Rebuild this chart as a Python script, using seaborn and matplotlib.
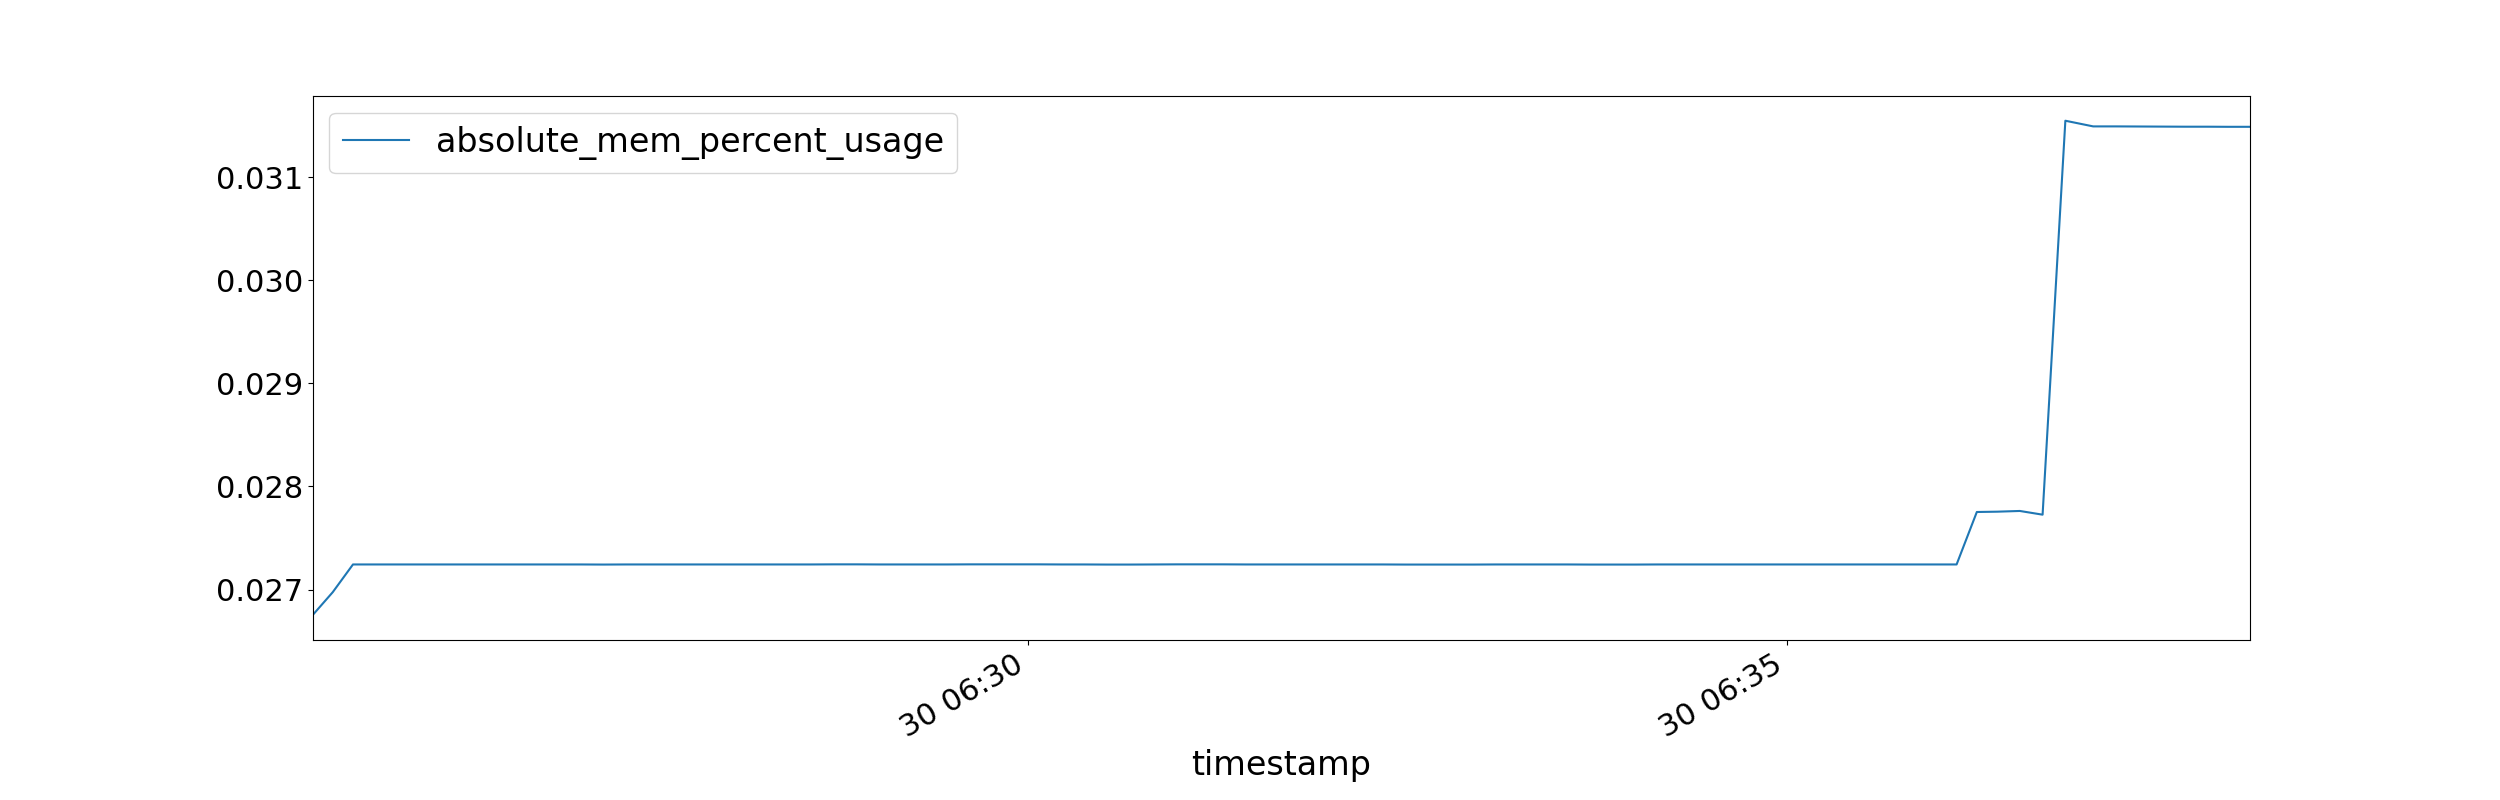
import pandas as pd
import matplotlib
matplotlib.use("Agg")
import matplotlib.pyplot as plt
import seaborn as sns

# memory usage log
start_time = "2020-06-30 06:25:17"

# seconds after start_time for each sample
offsets_s = [0, 8,
             16, 25, 34, 43, 52, 61, 70, 79, 88, 97, 106, 115, 124, 133, 142, 151,
             160, 170, 179, 188, 197, 206, 215, 224, 233, 242, 251, 260, 269, 278,
             287, 296, 305, 314, 323, 333, 342, 351, 360, 369, 378, 387, 396, 405,
             414, 423, 432, 441, 450, 459, 468, 477, 486, 496, 505, 514, 523, 532,
             541, 550, 559, 568, 577, 586, 595, 604, 613, 622, 631, 641, 650,
             658, 666, 675, 684, 693, 704, 713, 722, 731, 740, 749, 757, 766]

mem_usage = [0.026750, 0.026974,
             0.027243, 0.027243, 0.027243, 0.027243, 0.027243, 0.027243, 0.027243,
             0.027243, 0.027243, 0.027243, 0.027243, 0.027242, 0.027243, 0.027243,
             0.027243, 0.027243, 0.027243, 0.027243, 0.027243, 0.027243, 0.027243,
             0.027244, 0.027244, 0.027243, 0.027243, 0.027243, 0.027243, 0.027244,
             0.027244, 0.027244, 0.027244, 0.027243, 0.027243, 0.027242, 0.027242,
             0.027243, 0.027244, 0.027244, 0.027244, 0.027243, 0.027243, 0.027243,
             0.027243, 0.027243, 0.027243, 0.027243, 0.027242, 0.027242, 0.027242,
             0.027242, 0.027243, 0.027243, 0.027243, 0.027243, 0.027242, 0.027242,
             0.027242, 0.027243, 0.027243, 0.027243, 0.027243, 0.027243, 0.027243,
             0.027243, 0.027243, 0.027243, 0.027243, 0.027243, 0.027243, 0.027243,
             0.027243,
             0.027752, 0.027755, 0.027762, 0.027726, 0.031548, 0.031493, 0.031493,
             0.031492, 0.031491, 0.031490, 0.031490, 0.031489, 0.031489]

df = pd.DataFrame({
    "timestamp": pd.to_datetime(start_time) + pd.to_timedelta(offsets_s, unit="s"),
    "absolute_mem_percent_usage": mem_usage,
})

fig, ax = plt.subplots(figsize=(25, 8), dpi=100)
sns.lineplot(data=df, x="timestamp", y="absolute_mem_percent_usage", ax=ax,
             color="#1f77b4", linewidth=1.5, label="absolute_mem_percent_usage")

# line runs edge to edge like a pandas plot
ax.set_xlim(df["timestamp"].min(), df["timestamp"].max())
ax.set_ylabel("")
ax.set_xlabel("timestamp", fontsize=24)
ax.tick_params(labelsize=22)
ax.legend(loc="upper left", fontsize=24)
fig.autofmt_xdate()

fig.savefig("out.png")
